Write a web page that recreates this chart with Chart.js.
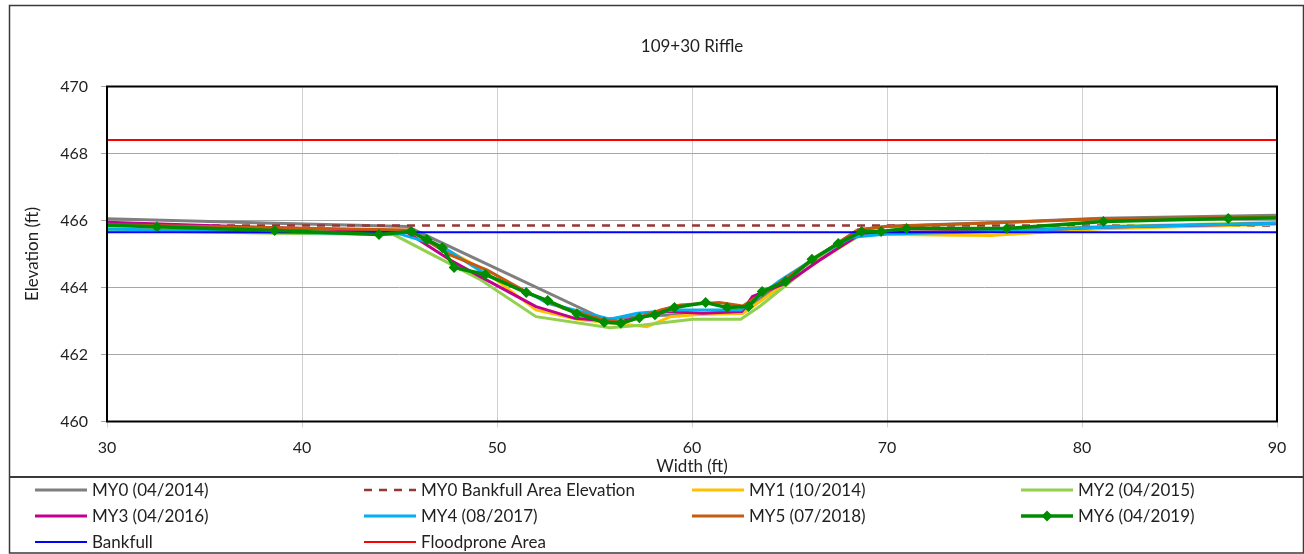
<!DOCTYPE html>
<html><head><meta charset="utf-8">
<script src="https://cdn.jsdelivr.net/npm/chart.js@4/dist/chart.umd.min.js"></script>
<style>html,body{margin:0;padding:0;background:#fff}canvas{display:block}</style>
</head><body>
<canvas id="c" width="1304" height="554"></canvas>
<script>
const chartTitle = '109+30 Riffle';
const xTitle = 'Width (ft)';
const yTitle = 'Elevation (ft)';
const seriesNames = ['MY0 (04/2014)','MY0 Bankfull Area Elevation','MY1 (10/2014)','MY2 (04/2015)','MY3 (04/2016)','MY4 (08/2017)','MY5 (07/2018)','MY6 (04/2019)','Bankfull','Floodprone Area'];
const yTicks = [460,462,464,466,468,470];
const xTicks = [30,40,50,60,70,80,90];

const my0X = [29, 38.6, 45.4, 55.5, 57.5, 60, 62.5, 64.5, 66.5, 68.5, 70, 76, 81, 91];
const my0Y = [466.07, 465.92, 465.82, 463.05, 463.15, 463.2, 463.25, 464.1, 464.95, 465.72, 465.83, 465.95, 466.07, 466.17];

const bkfAreaX = [30, 90];
const bkfAreaY = [465.85, 465.85];

const my1X = [29, 38.6, 45.6, 47.5, 49.1, 52.0, 54.1, 56.5, 57.7, 58.9, 60.5, 62.6, 64.5, 66.5, 68.7, 70, 75.3, 81, 91];
const my1Y = [465.75, 465.68, 465.65, 465.1, 464.6, 463.33, 463.05, 462.9, 462.83, 463.13, 463.2, 463.22, 464.0, 464.8, 465.6, 465.58, 465.55, 465.75, 465.9];

const my2X = [29, 38.6, 44.7, 49.1, 52.0, 55.8, 57.5, 60.05, 62.5, 63.5, 65, 66.5, 68.6, 70, 76, 81, 91];
const my2Y = [465.72, 465.62, 465.58, 464.25, 463.13, 462.8, 462.88, 463.05, 463.05, 463.45, 464.15, 464.85, 465.55, 465.62, 465.7, 465.82, 465.95];

const my3X = [29, 38.6, 45.3, 47.6, 49.0, 52.0, 54.0, 56.3, 58.7, 60.56, 62.55, 63.1, 64.9, 66.5, 68.5, 70, 76, 81, 91];
const my3Y = [465.97, 465.78, 465.68, 464.82, 464.37, 463.43, 463.08, 462.98, 463.28, 463.23, 463.28, 463.73, 464.15, 464.8, 465.55, 465.65, 465.68, 465.8, 465.92];

const my4X = [29, 38.6, 45.0, 47.2, 49.5, 51.85, 52.6, 55.8, 57.2, 59.2, 62.5, 64.5, 66.5, 68.2, 70, 76, 81, 91];
const my4Y = [465.76, 465.65, 465.6, 465.22, 464.37, 463.78, 463.53, 463.05, 463.23, 463.33, 463.33, 464.2, 464.95, 465.5, 465.6, 465.68, 465.8, 465.93];

const my5X = [29, 38.6, 45.5, 47.6, 49.5, 51.5, 53.4, 55.5, 56.65, 58.4, 59.4, 61.4, 62.6, 64.5, 66.5, 68.5, 70, 75, 81, 91];
const my5Y = [465.88, 465.78, 465.72, 464.97, 464.52, 463.87, 463.38, 463.03, 462.98, 463.33, 463.48, 463.55, 463.45, 464.15, 464.95, 465.72, 465.82, 465.92, 466.05, 466.1];

const my6X = [29, 32.56, 38.6, 43.95, 45.6, 46.4, 47.2, 47.8, 49.4, 51.5, 52.6, 54.1, 55.5, 56.35, 57.3, 58.1, 59.1, 60.7, 61.8, 62.9, 63.6, 64.8, 66.15, 67.5, 68.7, 69.7, 71.0, 76.15, 81.1, 87.5, 91];
const my6Y = [465.88, 465.81, 465.7, 465.58, 465.67, 465.43, 465.19, 464.6, 464.39, 463.85, 463.61, 463.22, 462.96, 462.93, 463.1, 463.19, 463.4, 463.55, 463.4, 463.43, 463.88, 464.18, 464.84, 465.31, 465.67, 465.67, 465.76, 465.76, 465.97, 466.06, 466.08];

const bankfullX = [30, 90];
const bankfullY = [465.65, 465.65];

const floodX = [30, 90];
const floodY = [468.4, 468.4];

const FONT = 'Lato, "Open Sans", "Noto Sans", sans-serif';
const TXT = '#1f1f1f';

function pts(xs, ys){ return xs.map((x,i)=>({x:x, y:ys[i]})); }

function ds(i, xs, ys, color, width, extra){
  return Object.assign({
    label: seriesNames[i],
    data: pts(xs, ys),
    showLine: true,
    borderColor: color,
    backgroundColor: color,
    borderWidth: width,
    pointRadius: 0,
    pointHoverRadius: 0,
    fill: false,
    tension: 0,
    clip: 0,
    xAxisID: 'x',
    yAxisID: 'y'
  }, extra || {});
}

const datasets = [
  ds(0, my0X, my0Y, '#7F7F7F', 3, {order: 9}),
  ds(1, bkfAreaX, bkfAreaY, '#953735', 2.5, {order: 8, borderDash: [8,7]}),
  ds(2, my1X, my1Y, '#FFC000', 3, {order: 7}),
  ds(3, my2X, my2Y, '#92D050', 3, {order: 6}),
  ds(4, my3X, my3Y, '#C00090', 3, {order: 5}),
  ds(5, my4X, my4Y, '#00B0F0', 3, {order: 4}),
  ds(6, my5X, my5Y, '#C55A11', 3, {order: 3}),
  ds(7, my6X, my6Y, '#008C00', 3.5, {order: 0, pointRadius: 5.5, pointStyle: 'rectRot', pointBorderWidth: 0}),
  ds(8, bankfullX, bankfullY, '#0000FF', 2, {order: 2}),
  ds(9, floodX, floodY, '#FF0000', 2, {order: 1})
];

const frame = {
  id: 'frame',
  afterDraw(chart){
    const {ctx, chartArea: a} = chart;
    ctx.save();
    ctx.strokeStyle = '#000';
    ctx.lineWidth = 2;
    ctx.strokeRect(a.left, a.top, a.right - a.left, a.bottom - a.top);
    ctx.strokeStyle = '#3a3a3a';
    ctx.lineWidth = 1.5;
    ctx.strokeRect(9.5, 5.5, 1294, 547.5);
    ctx.lineWidth = 2;
    ctx.beginPath(); ctx.moveTo(9, 477); ctx.lineTo(1304, 477); ctx.stroke();
    // legend
    const cols = [35, 364, 692, 1021];
    const rows = [490, 516, 542];
    ctx.font = '17px ' + FONT;
    ctx.textBaseline = 'middle';
    ctx.textAlign = 'left';
    chart.data.datasets.forEach((d, i) => {
      const cx = cols[i % 4], cy = rows[Math.floor(i / 4)];
      ctx.save();
      ctx.strokeStyle = d.borderColor;
      ctx.lineWidth = d.borderWidth;
      if (d.borderDash) ctx.setLineDash(d.borderDash);
      ctx.beginPath(); ctx.moveTo(cx, cy); ctx.lineTo(cx + 52, cy); ctx.stroke();
      ctx.setLineDash([]);
      if (d.pointRadius > 0) {
        const r = d.pointRadius, mx = cx + 26;
        ctx.fillStyle = d.borderColor;
        ctx.beginPath(); ctx.moveTo(mx, cy - r); ctx.lineTo(mx + r, cy); ctx.lineTo(mx, cy + r); ctx.lineTo(mx - r, cy); ctx.closePath(); ctx.fill();
      }
      ctx.fillStyle = TXT;
      ctx.fillText(d.label, cx + 57, cy + 1);
      ctx.restore();
    });
    ctx.restore();
  }
};

new Chart(document.getElementById('c'), {
  type: 'scatter',
  data: { datasets },
  options: {
    responsive: false,
    animation: false,
    devicePixelRatio: 1,
    events: [],
    layout: { padding: { left: 0, right: 27, top: 0, bottom: 76.5 } },
    plugins: {
      legend: { display: false },
      tooltip: { enabled: false },
      title: { display: false }
    },
    scales: {
      xTop: {
        type: 'linear', position: 'top', min: 30, max: 90,
        afterFit: s => { s.height = 86.5; },
        grid: { display: false, drawTicks: false },
        border: { display: false },
        ticks: { display: false },
        title: { display: true, text: chartTitle, color: TXT, font: { family: FONT, size: 17, lineHeight: 1.2 }, padding: { top: 36.8, bottom: 0 } }
      },
      x: {
        type: 'linear', position: 'bottom', min: 30, max: 90,
        afterBuildTicks: s => { s.ticks = xTicks.map(v => ({value: v})); },
        afterFit: s => { s.height = 56; },
        grid: { color: '#D0D0D0', lineWidth: 1, tickLength: 6, drawTicks: true },
        border: { display: false },
        ticks: { color: TXT, font: { family: FONT, size: 16 }, padding: 11, maxRotation: 0 },
        title: { display: true, text: xTitle, color: TXT, font: { family: FONT, size: 17, lineHeight: 1.2 }, padding: { top: 0, bottom: 0.5 } }
      },
      y: {
        type: 'linear', min: 460, max: 470,
        afterBuildTicks: s => { s.ticks = yTicks.map(v => ({value: v})); },
        afterFit: s => { s.width = 107; },
        grid: { color: '#A6A6A6', lineWidth: 1, tickLength: 6 },
        border: { display: false },
        ticks: { color: TXT, font: { family: FONT, size: 16 }, padding: 13 },
        title: { display: true, text: yTitle, color: TXT, font: { family: FONT, size: 17, lineHeight: 1.2 }, padding: { top: 22, bottom: 0 } }
      }
    }
  },
  plugins: [frame]
});
</script>
</body></html>
